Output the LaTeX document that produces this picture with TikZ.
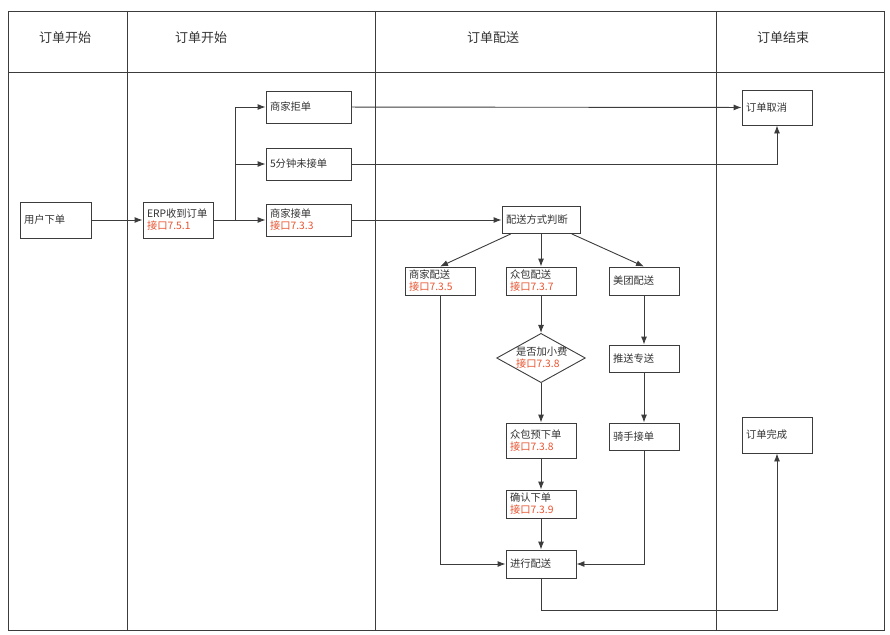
\documentclass[tikz,border=0pt]{standalone}
\usepackage{fontspec}
\setmainfont{Noto Sans CJK SC}
\usepackage{xcolor}
\usetikzlibrary{arrows.meta,positioning,shapes.geometric,calc}
\definecolor{lane}{RGB}{60,60,60}
\definecolor{api}{RGB}{232,84,48}
\newcommand{\apitag}[1]{\\\textcolor{api}{接口#1}}
\tikzset{
  box/.style = {draw = lane, line width = .9pt, fill = white, inner xsep = 4pt, inner ysep = 2pt,
    text width = 62pt, align = left, minimum height = 28pt, font = \fontsize{10.3}{12}\selectfont, text = black!80},
  arr/.style = {draw = lane, line width = .9pt, -{Latex[length=8pt, width=6pt]}},
}
\begin{document}
\begin{tikzpicture}[x = 1pt, y = -1pt]
\useasboundingbox (0,0) rectangle (890,634);
\draw[lane, line width = .9pt] (8,11) rectangle (884,630);
\draw[lane, line width = .9pt] (8,72) -- (884,72);
\draw[lane, line width = .9pt] (127,11) -- (127,630);
\draw[lane, line width = .9pt] (375,11) -- (375,630);
\draw[lane, line width = .9pt] (716,11) -- (716,630);
\node[font = \fontsize{13}{14}\selectfont, text = black!80] (h1) at (65,38) {订单开始};
\node[font = \fontsize{13}{14}\selectfont, text = black!80] (h2) at (201,38) {订单开始};
\node[font = \fontsize{13}{14}\selectfont, text = black!80] (h3) at (493,38) {订单配送};
\node[font = \fontsize{13}{14}\selectfont, text = black!80] (h4) at (783,38) {订单结束};
\node[box, minimum height = 36pt, text width = 63pt] (user) at (55.5,220) {用户下单};
\node[box, minimum height = 36pt] (erp) at (178,220) {ERP收到订单\apitag{7.5.1}};
\node[box, text width = 77pt, minimum height = 32pt] (reject) at (308.5,107) {商家拒单};
\node[box, text width = 77pt, minimum height = 32pt] (timeout) at (308.5,164) {5分钟未接单};
\node[box, text width = 77pt, minimum height = 32pt] (accept) at (308.5,220) {商家接单\apitag{7.3.3}};
\node[box, minimum height = 35pt] (cancel) at (777,107.5) {订单取消};
\node[box, text width = 70pt, minimum height = 27pt] (judge) at (541,220) {配送方式判断};
\node[box] (shop) at (440,281) {商家配送\apitag{7.3.5}};
\node[box] (crowd) at (541,281) {众包配送\apitag{7.3.7}};
\node[box] (meituan) at (644,281) {美团配送};
\node[box, shape = diamond, aspect = 1.8, inner sep = 0pt, text width = 50pt] (tip) at (541,358) {是否加小费\apitag{7.3.8}};
\node[box, minimum height = 27pt] (push) at (644,358.5) {推送专送};
\node[box, minimum height = 35pt] (prebook) at (541,440.5) {众包预下单\apitag{7.3.8}};
\node[box, minimum height = 27pt] (rider) at (644,436.5) {骑手接单};
\node[box] (confirm) at (541,504) {确认下单\apitag{7.3.9}};
\node[box] (deliver) at (541,564) {进行配送};
\node[box, minimum height = 36pt] (done) at (777,435) {订单完成};
\coordinate (fork) at (235,220);
\coordinate (low) at (777,610);
\draw[arr] (user) -- (erp);
\draw[arr] (erp) -- (accept);
\draw[arr] (fork) |- (reject);
\draw[arr] (fork) |- (timeout);
\draw[arr] (reject) -- (cancel);
\draw[arr] (timeout) -| (cancel);
\draw[arr] (accept) -- (judge);
\draw[arr] (judge) -- (shop.north);
\draw[arr] (judge) -- (crowd);
\draw[arr] (judge) -- (meituan.north);
\draw[arr] (shop) |- (deliver);
\draw[arr] (crowd) -- (tip);
\draw[arr] (tip) -- (prebook);
\draw[arr] (prebook) -- (confirm);
\draw[arr] (confirm) -- (deliver);
\draw[arr] (meituan) -- (push);
\draw[arr] (push) -- (rider);
\draw[arr] (rider) |- (deliver);
\draw[arr] (deliver) |- (low) -- (done);
\end{tikzpicture}
\end{document}
